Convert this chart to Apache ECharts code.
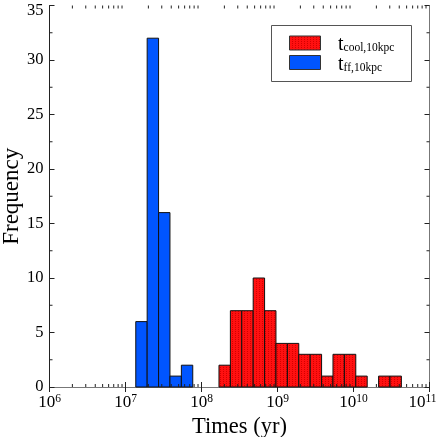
<!DOCTYPE html>
<html>
<head>
<meta charset="utf-8">
<script src="https://cdn.jsdelivr.net/npm/echarts@6/dist/echarts.min.js"></script>
<style>
  html, body { margin: 0; padding: 0; background: #fff; }
  #chart { width: 436px; height: 437px; }
</style>
</head>
<body>
<div id="chart"></div>
<script>
// bin edges (yr) and counts
const ffEdges = [1.365e7, 1.928e7, 2.723e7, 3.846e7, 5.433e7, 7.674e7];
const ffCounts = [6, 32, 16, 1, 2];

const coolEdges = [1.698e8, 2.399e8, 3.388e8, 4.786e8, 6.761e8, 9.550e8, 1.349e9, 1.905e9,
  2.692e9, 3.802e9, 5.370e9, 7.586e9, 1.072e10, 1.514e10, 2.138e10, 3.020e10, 4.266e10];
const coolCounts = [2, 7, 7, 10, 7, 4, 4, 3, 3, 1, 3, 3, 1, 0, 1, 1];

const yTicks = [0, 5, 10, 15, 20, 25, 30, 35];
const legendNames = ['cool,10kpc', 'ff,10kpc'];

const FONT = 'Liberation Serif';

function toBins(edges, counts) {
  return counts.map((c, i) => [edges[i], edges[i + 1], c]);
}

// dotted red fill like the original
const pat = document.createElement('canvas');
pat.width = 3; pat.height = 2;
const pc = pat.getContext('2d');
pc.fillStyle = '#ff1010';
pc.fillRect(0, 0, 3, 2);
pc.fillStyle = '#d40000';
pc.fillRect(1, 1, 1, 1);
const redFill = { image: pat, repeat: 'repeat' };
const blueFill = '#0055ff';

function barItem(fill) {
  return function (params, api) {
    const p0 = api.coord([api.value(0), api.value(2)]);
    const p1 = api.coord([api.value(1), 0]);
    if (api.value(2) <= 0) return null;
    return {
      type: 'rect',
      shape: { x: p0[0], y: p0[1], width: p1[0] - p0[0], height: p1[1] - p0[1] },
      style: { fill: fill, stroke: '#111', lineWidth: 1 }
    };
  };
}

// minor ticks (decoration)
const xMinor = [];
for (let d = 6; d < 11; d++) for (let k = 2; k <= 9; k++) xMinor.push([k * Math.pow(10, d), 0]);
const yMinor = [];
for (let v = 2.5; v < 35; v += 5) yMinor.push([1e6, v]);

const chart = echarts.init(document.getElementById('chart'));

const axisCommon = {
  axisLine: { show: true, lineStyle: { color: '#222', width: 1 } },
  axisTick: { show: true, inside: true, length: 5, lineStyle: { color: '#222' } },
  splitLine: { show: false }
};

// legend drawn by hand: box, swatches, subscripted labels
function legendRow(y, fill, label) {
  return [
    { type: 'rect', shape: { x: 289.5, y: y, width: 31, height: 14 },
      style: { fill: fill, stroke: '#333', lineWidth: 1 } },
    { type: 'text', x: 338, y: y + 19,
      style: {
        text: '{t|t}{s|' + label + '}', verticalAlign: 'bottom',
        rich: {
          t: { fontFamily: FONT, fontSize: 20, fill: '#000', verticalAlign: 'bottom' },
          s: { fontFamily: FONT, fontSize: 11.5, fill: '#000', verticalAlign: 'bottom', padding: [0, 0, 1, 0] }
        }
      } }
  ];
}

chart.setOption({
  animation: false,
  grid: { left: 49.5, right: 6.5, top: 5.5, bottom: 50, outerBoundsMode: 'none', containLabel: false },
  xAxis: [
    Object.assign({}, axisCommon, {
      type: 'log', logBase: 10, min: 1e6, max: 1e11,
      name: 'Times (yr)', nameLocation: 'middle', nameGap: 29, nameMoveOverlap: false,
      nameTextStyle: { fontFamily: FONT, fontSize: 22.5, color: '#000' },
      axisLabel: {
        margin: 6, color: '#000',
        formatter: v => {
          const e = Math.round(Math.log10(v));
          return e === 11 ? '10{e|11}' : '10{s|' + e + '}';
        },
        rich: {
          s: { fontFamily: FONT, fontSize: 11.5, verticalAlign: 'top', padding: [0, 0, 8, 0] },
          e: { fontFamily: FONT, fontSize: 11.5, verticalAlign: 'top', padding: [0, 14, 8, 0] }
        },
        fontFamily: FONT, fontSize: 17
      }
    }),
    Object.assign({}, axisCommon, {
      type: 'log', logBase: 10, min: 1e6, max: 1e11, position: 'top',
      axisLine: { show: true, lineStyle: { color: '#777' } },
      axisLabel: { show: false }
    })
  ],
  yAxis: [
    Object.assign({}, axisCommon, {
      type: 'value', min: 0, max: 35, interval: 5,
      name: 'Frequency', nameLocation: 'middle', nameGap: 26, nameRotate: 90, nameMoveOverlap: false,
      nameTextStyle: { fontFamily: FONT, fontSize: 23, color: '#000' },
      axisLabel: {
        margin: 6, color: '#000', fontFamily: FONT, fontSize: 16.5,
        formatter: v => v === 35 ? '{m|35}' : (yTicks.indexOf(v) >= 0 ? String(v) : ''),
        rich: { m: { fontFamily: FONT, fontSize: 16.5, padding: [11, 0, 0, 0] } }
      }
    }),
    Object.assign({}, axisCommon, {
      type: 'value', min: 0, max: 35, interval: 5, position: 'right',
      axisLine: { show: true, lineStyle: { color: '#777' } },
      axisLabel: { show: false }
    })
  ],
  graphic: [{
    type: 'group', z: 100,
    children: [
      { type: 'rect', shape: { x: 271.5, y: 25.5, width: 140, height: 56 },
        style: { fill: '#fff', stroke: '#555', lineWidth: 1 } }
    ].concat(legendRow(36, redFill, legendNames[0]), legendRow(55.5, blueFill, legendNames[1]))
  }],
  series: [
    {
      name: 'cool', type: 'custom', renderItem: barItem(redFill),
      encode: { x: [0, 1], y: 2 },
      data: toBins(coolEdges, coolCounts)
    },
    {
      name: 'ff', type: 'custom', renderItem: barItem(blueFill),
      encode: { x: [0, 1], y: 2 },
      data: toBins(ffEdges, ffCounts)
    },
    {
      type: 'custom', silent: true, clip: false,
      renderItem: (params, api) => {
        const cs = params.coordSys;
        const x = api.coord([api.value(0), 1])[0];
        return {
          type: 'group', children: [
            { type: 'line', shape: { x1: x, y1: cs.y + cs.height, x2: x, y2: cs.y + cs.height - 3 }, style: { stroke: '#222' } },
            { type: 'line', shape: { x1: x, y1: cs.y, x2: x, y2: cs.y + 3 }, style: { stroke: '#222' } }
          ]
        };
      },
      data: xMinor
    },
    {
      type: 'custom', silent: true, clip: false,
      renderItem: (params, api) => {
        const cs = params.coordSys;
        const y = api.coord([1e6, api.value(1)])[1];
        return {
          type: 'group', children: [
            { type: 'line', shape: { x1: cs.x, y1: y, x2: cs.x + 3, y2: y }, style: { stroke: '#222' } },
            { type: 'line', shape: { x1: cs.x + cs.width, y1: y, x2: cs.x + cs.width - 3, y2: y }, style: { stroke: '#222' } }
          ]
        };
      },
      data: yMinor
    }
  ]
});
</script>
</body>
</html>
